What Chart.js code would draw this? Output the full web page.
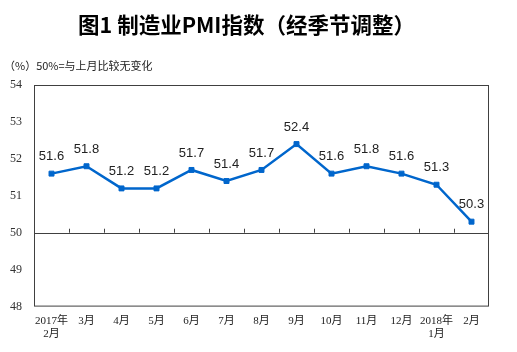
<!DOCTYPE html>
<html>
<head>
<meta charset="utf-8">
<script src="https://cdn.jsdelivr.net/npm/chart.js@4/dist/chart.umd.min.js"></script>
<style>
  body { margin: 0; background: #fff; }
</style>
</head>
<body>
<canvas id="pmiChart" width="517" height="352"></canvas>
<script>
// data
const months = [
  ["2017年", "2月"], "3月", "4月", "5月", "6月", "7月", "8月", "9月",
  "10月", "11月", "12月", ["2018年", "1月"], "2月"
];
const pmiValues = [51.6, 51.8, 51.2, 51.2, 51.7, 51.4, 51.7, 52.4, 51.6, 51.8, 51.6, 51.3, 50.3];
const yTicks = [48, 49, 50, 51, 52, 53, 54];
const baseline = 50;

const axisColor = "#404040";

// frame, 50% line and its small tick marks, plus value labels
const framePlugin = {
  id: "frame",
  afterDatasetsDraw(chart) {
    const { ctx, chartArea: a, scales } = chart;
    const x = scales.x, y = scales.y;
    const y50 = y.getPixelForValue(baseline);
    ctx.save();
    ctx.strokeStyle = axisColor;
    ctx.lineWidth = 1;
    ctx.strokeRect(a.left + 0.5, a.top + 0.5, a.width - 1, a.height - 1);
    ctx.beginPath();
    ctx.moveTo(a.left, Math.round(y50) + 0.5);
    ctx.lineTo(a.right, Math.round(y50) + 0.5);
    for (let i = 0; i < months.length - 1; i++) {
      const px = Math.round((x.getPixelForValue(i) + x.getPixelForValue(i + 1)) / 2) + 0.5;
      ctx.moveTo(px, y50);
      ctx.lineTo(px, y50 - 4);
    }
    ctx.stroke();

    const meta = chart.getDatasetMeta(0);
    ctx.fillStyle = "#222";
    ctx.font = '13px "Liberation Sans", Arial, sans-serif';
    ctx.textAlign = "center";
    ctx.textBaseline = "middle";
    meta.data.forEach((pt, i) => {
      ctx.fillText(pmiValues[i].toFixed(1), pt.x, pt.y - 17);
    });
    ctx.restore();
  }
};

new Chart(document.getElementById("pmiChart"), {
  type: "line",
  data: {
    labels: months,
    datasets: [{
      label: "制造业PMI",
      data: pmiValues,
      borderColor: "#0066cc",
      backgroundColor: "#0066cc",
      borderWidth: 2.5,
      tension: 0,
      pointStyle: "rect",
      pointRadius: 3.5,
      pointBorderWidth: 1,
    }]
  },
  options: {
    responsive: false,
    animation: false,
    layout: { padding: { left: 4, right: 28, top: 0, bottom: 3 } },
    plugins: {
      legend: { display: false },
      tooltip: { enabled: false },
      title: {
        display: true,
        text: "图1 制造业PMI指数（经季节调整）",
        color: "#000",
        font: { family: '"Noto Sans CJK SC", sans-serif', size: 21.5, weight: "bold" },
        padding: { top: 12, bottom: 21 }
      },
      subtitle: {
        display: true,
        text: "（%）50%=与上月比较无变化",
        align: "start",
        color: "#222",
        font: { family: '"Noto Sans CJK SC", sans-serif', size: 11 },
        padding: { top: 0, bottom: 13 }
      }
    },
    scales: {
      x: {
        offset: true,
        grid: { display: false, drawTicks: false },
        border: { display: false },
        ticks: {
          color: "#222",
          padding: 8,
          maxRotation: 0,
          autoSkip: false,
          font: { family: '"Liberation Serif", "Noto Sans CJK SC", serif', size: 11 }
        }
      },
      y: {
        min: yTicks[0],
        max: yTicks[yTicks.length - 1],
        afterBuildTicks: (s) => { s.ticks = yTicks.map(v => ({ value: v })); },
        afterFit: (s) => { s.width = 30; },
        grid: { display: false, drawTicks: false },
        border: { display: false },
        ticks: {
          color: "#333",
          padding: 12,
          font: { family: '"Liberation Serif", serif', size: 12 }
        }
      }
    }
  },
  plugins: [framePlugin]
});
</script>
</body>
</html>
